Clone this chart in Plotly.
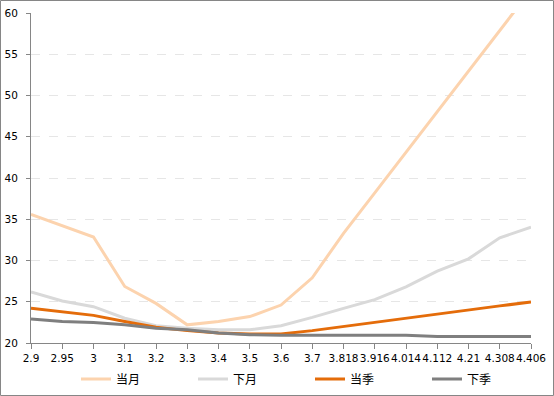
import plotly.graph_objects as go

categories = ["2.9", "2.95", "3", "3.1", "3.2", "3.3", "3.4", "3.5", "3.6", "3.7",
              "3.818", "3.916", "4.014", "4.112", "4.21", "4.308", "4.406"]

dangyue = [35.6, 34.2, 32.85, 26.85, 24.8, 22.2, 22.6, 23.2, 24.6, 27.9,
           33.3, 38.2, 43.1, 48.1, 53.0, 57.9, 62.8]
xiayue = [26.2, 25.1, 24.4, 23.0, 22.1, 21.8, 21.6, 21.6, 22.1, 23.1,
          24.2, 25.25, 26.8, 28.7, 30.2, 32.75, 34.05]
dangji = [24.2, 23.8, 23.35, 22.6, 21.9, 21.5, 21.2, 21.1, 21.1, 21.5,
          22.0, 22.5, 23.0, 23.55, 24.0, 24.5, 24.96]
xiaji = [22.9, 22.6, 22.5, 22.2, 21.8, 21.6, 21.2, 21.0, 20.95, 20.95,
         20.95, 20.95, 20.95, 20.8, 20.8, 20.8, 20.8]

series_names = ["当月", "下月", "当季", "下季"]
series_values = [dangyue, xiayue, dangji, xiaji]
colors = ["#FCD3AE", "#D9D9D9", "#E46C0A", "#7F7F7F"]

fig = go.Figure()
for name, vals, c in zip(series_names, series_values, colors):
    fig.add_trace(go.Scatter(x=categories, y=vals, name=name, mode="lines",
                             line=dict(color=c, width=3), cliponaxis=True))

W, H = 554, 396
L, R, T, B = 31, 23, 13, 53
pw, ph = W - L - R, H - T - B

fig.update_layout(
    width=W, height=H,
    margin=dict(l=L, r=R, t=T, b=B, autoexpand=False),
    paper_bgcolor="white", plot_bgcolor="white",
    font=dict(family="DejaVu Sans, Noto Sans CJK SC", size=11, color="#000000"),
    showlegend=True,
    legend=dict(orientation="h", x=0.09, xanchor="left", y=-0.065, yanchor="top",
                font=dict(family="Noto Sans CJK SC", size=12),
                itemwidth=30, entrywidth=72, traceorder="normal"),
    xaxis=dict(type="category", range=[0, 16], showgrid=False,
               showline=True, linecolor="#868686", linewidth=1,
               ticks="outside", ticklen=5, tickcolor="#868686",
               tickangle=0, tickfont=dict(size=10.5), fixedrange=True),
    yaxis=dict(range=[20, 60], dtick=5, showgrid=True, gridcolor="#E6E6E6",
               griddash="dash", gridwidth=1, zeroline=False,
               showline=True, linecolor="#868686", linewidth=1,
               ticks="outside", ticklen=4, tickcolor="#868686",
               ticklabelstandoff=6,
               tickfont=dict(size=10.5), fixedrange=True),
)

# outer chart border
fig.add_shape(type="rect", xref="paper", yref="paper",
              x0=(0.5 - L) / pw, x1=(W - 0.5 - L) / pw,
              y0=-(H - 0.5 - T - ph) / ph, y1=(ph + T - 0.5) / ph,
              line=dict(color="#868686", width=1), fillcolor="rgba(0,0,0,0)",
              layer="below")

fig.write_html("out.html", config={"displayModeBar": False, "staticPlot": True},
               post_script="document.body.style.margin='0';document.body.style.overflow='hidden';")
